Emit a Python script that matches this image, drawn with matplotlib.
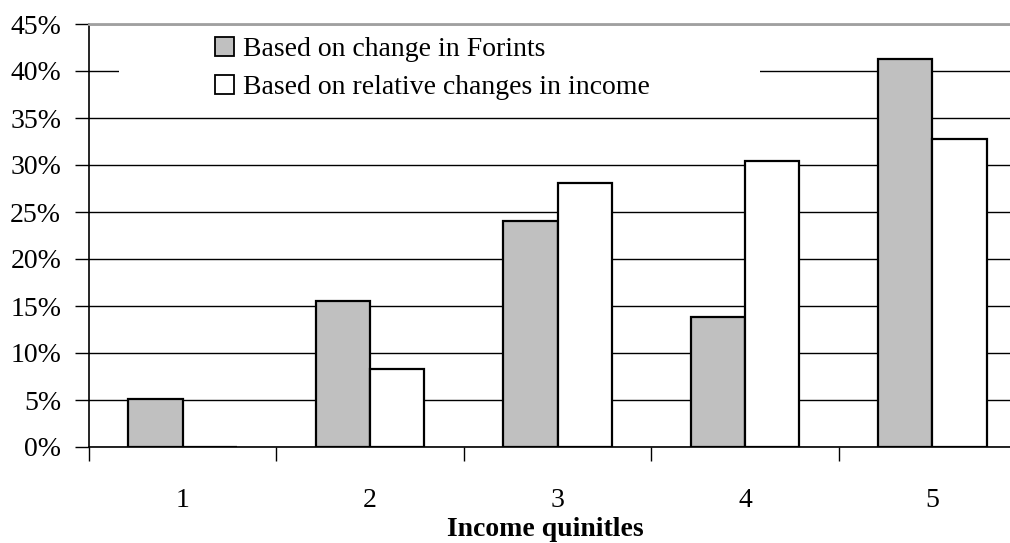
import matplotlib.pyplot as plt
import numpy as np
from matplotlib.patches import Patch, Rectangle

plt.rcParams["font.family"] = ["Liberation Serif", "DejaVu Serif"]

quintiles = ["1", "2", "3", "4", "5"]
forints = [5.1, 15.5, 24.0, 13.8, 41.3]
relative = [0.0, 8.3, 28.1, 30.4, 32.8]
series_labels = ["Based on change in Forints", "Based on relative changes in income"]

W, H = 1010, 543
fig = plt.figure(figsize=(W / 100, H / 100), dpi=100)
ax = fig.add_axes([89 / W, 96 / H, 937 / W, 423 / H])

x = np.arange(len(quintiles))
w = 0.29
ax.bar(x - w / 2, forints, w, color="#c0c0c0", edgecolor="black", linewidth=1.6, zorder=3)
ax.bar(x + w / 2, relative, w, color="white", edgecolor="black", linewidth=1.6, zorder=3)

ax.set_xlim(-0.5, len(quintiles) - 0.5)
ax.set_ylim(0, 45)
ax.set_yticks(np.arange(0, 46, 5))
ax.set_yticklabels([f"{v}%" for v in range(0, 46, 5)], fontsize=20)
ax.yaxis.grid(True, color="black", linewidth=1.0, zorder=0)
ax.set_axisbelow(True)

# boundaries get tick marks, centers get labels
ax.set_xticks(np.arange(-0.5, len(quintiles), 1.0))
ax.set_xticklabels([])
ax.set_xticks(x, minor=True)
ax.set_xticklabels(quintiles, minor=True, fontsize=20)
ax.tick_params(axis="x", which="major", direction="out", length=10, width=1)
ax.tick_params(axis="x", which="minor", length=0, pad=29.5)
ax.tick_params(axis="y", direction="out", length=10, width=1, pad=10)

ax.spines["right"].set_visible(False)
ax.spines["top"].set_color("#a0a0a0")
ax.spines["top"].set_linewidth(2)
ax.spines["left"].set_linewidth(1.2)
ax.spines["bottom"].set_linewidth(1.2)

ax.set_xlabel("Income quinitles", fontsize=20, fontweight="bold", labelpad=0)
ax.xaxis.set_label_coords(456 / 937, -70 / 423)

# white box behind the legend hides part of the top gridline
ax.add_patch(Rectangle((30 / 937, 0.80), 641 / 937, 0.195, transform=ax.transAxes,
                       facecolor="white", edgecolor="none", zorder=1))

handles = [
    Patch(facecolor="#c0c0c0", edgecolor="black", linewidth=1.3),
    Patch(facecolor="white", edgecolor="black", linewidth=1.3),
]
leg = fig.legend(handles, series_labels, loc="upper left",
                 bbox_to_anchor=(215 / W, (H - 37) / H),
                 frameon=False, fontsize=20, handlelength=0.68, handleheight=0.68,
                 handletextpad=0.32, labelspacing=0.46, borderaxespad=0,
                 borderpad=0)

fig.savefig("out.png", dpi=100)
